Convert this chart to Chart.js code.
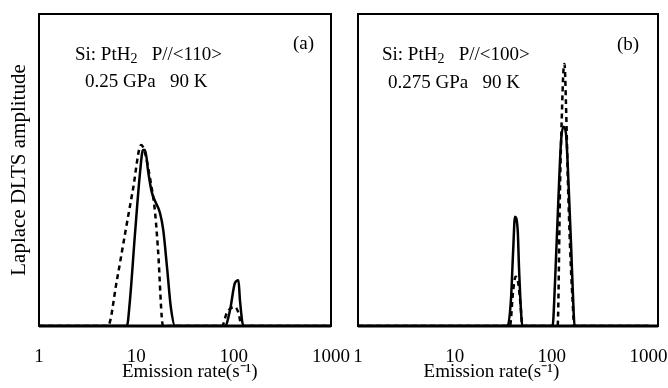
<!DOCTYPE html>
<html>
<head>
<meta charset="utf-8">
<script src="https://cdn.jsdelivr.net/npm/chart.js@4/dist/chart.umd.min.js"></script>
<style>
  html, body { margin: 0; padding: 0; background: #fff; }
  #wrap { position: relative; width: 668px; height: 388px; overflow: hidden; }
  canvas { position: absolute; top: 0; }
  #chartA { left: 0; }
  #chartB { left: 340px; }
  .note {
    position: absolute; font-family: "Liberation Serif", "Times New Roman", serif;
    font-size: 19px; line-height: 19px; color: #000; white-space: pre;
  }
  .note sub { font-size: 14px; vertical-align: -3px; line-height: 0; }
</style>
</head>
<body>
<div id="wrap">
  <canvas id="chartA" width="350" height="388"></canvas>
  <canvas id="chartB" width="328" height="388"></canvas>
  <div class="note" style="left:75px; top:44px;">Si: PtH<sub>2</sub>   P//&lt;110&gt;</div>
  <div class="note" style="left:85px; top:71px;">0.25 GPa   90 K</div>
  <div class="note" style="left:293px; top:33px;">(a)</div>
  <div class="note" style="left:382px; top:44px;">Si: PtH<sub>2</sub>   P//&lt;100&gt;</div>
  <div class="note" style="left:388px; top:72px;">0.275 GPa   90 K</div>
  <div class="note" style="left:617px; top:34px;">(b)</div>
</div>
<script>
// tick values on the log axis
const xTicks = [1, 10, 100, 1000];

// panel (a): P//<110>, 0.25 GPa
const aSolidRate = [1, 8.0, 8.6, 9.7, 10.9, 11.7, 12.3, 13.3, 14.4, 17.5, 18.9, 20.8, 22.6, 25.0, 81.6, 91.8, 103, 112, 116, 126, 1000];
const aSolidAmp  = [0, 0, 8.3, 29.8, 49.0, 56.4, 56.4, 49.0, 42.9, 36.2, 30.8, 17.9, 6.1, 0, 0, 5.1, 13.8, 14.7, 8.3, 0, 0];
const aDashRate  = [1, 5.1, 6.3, 7.6, 9.2, 11.2, 14.5, 15.6, 16.7, 18.8, 76, 85, 103, 112, 121, 1000];
const aDashAmp   = [0, 0, 14.5, 29.0, 43.5, 58.0, 43.6, 36.2, 24.4, 0, 0, 4.2, 6.1, 4.2, 0, 0];

// panel (b): P//<100>, 0.275 GPa
const bSolidRate = [1, 35.0, 37.9, 40.0, 41.7, 44.5, 45.9, 48.1, 49.6, 102, 108, 117, 125, 132, 140, 149, 159, 168, 172, 1000];
const bSolidAmp  = [0, 0, 8.3, 24.4, 35.0, 30.8, 19.0, 5.1, 0, 0, 13.8, 40.4, 59.6, 63.9, 61.9, 45.8, 24.4, 5.1, 0, 0];
const bDashRate  = [1, 37.0, 40.0, 42.4, 45.1, 48.1, 49.6, 115, 122, 127, 132, 135.5, 140, 147, 155, 164, 171, 1000];
const bDashAmp   = [0, 0, 11.5, 15.8, 13.8, 5.1, 0, 0, 45.8, 67.0, 81.7, 84.0, 72.1, 45.8, 24.4, 8.3, 0, 0];

const serif = "'Liberation Serif', 'Times New Roman', serif";

function pts(xs, ys) {
  return xs.map((x, i) => ({ x: x, y: ys[i] }));
}

const boxPlugin = {
  id: 'box',
  afterDraw(chart) {
    const { ctx, chartArea: a } = chart;
    ctx.save();
    ctx.strokeStyle = '#000';
    ctx.lineWidth = 2;
    ctx.strokeRect(a.left, a.top, a.right - a.left, a.bottom - a.top);
    ctx.lineWidth = 3;
    ctx.beginPath();
    ctx.moveTo(a.left, a.bottom);
    ctx.lineTo(a.right, a.bottom);
    ctx.stroke();
    ctx.restore();
  }
};

function makePanel(id, solidX, solidY, dashX, dashY, opts) {
  return new Chart(document.getElementById(id), {
    type: 'line',
    data: {
      datasets: [
        { data: pts(solidX, solidY), borderColor: '#000', borderWidth: 2.5,
          pointRadius: 0, cubicInterpolationMode: 'monotone' },
        { data: pts(dashX, dashY), borderColor: '#000', borderWidth: 2.5,
          borderDash: [5, 4], pointRadius: 0, cubicInterpolationMode: 'monotone' }
      ]
    },
    options: {
      responsive: false,
      animation: false,
      layout: { padding: opts.padding },
      plugins: { legend: { display: false }, tooltip: { enabled: false } },
      scales: {
        x: {
          type: 'logarithmic',
          min: 1,
          max: opts.xMax,
          grid: { display: false, drawTicks: false },
          border: { display: false },
          afterBuildTicks: s => { s.ticks = xTicks.map(v => ({ value: v })); },
          afterFit: s => { s.height = 62; s.paddingLeft = 0; s.paddingRight = 0; },
          ticks: {
            color: '#000', padding: 20, maxRotation: 0, autoSkip: false,
            font: { family: serif, size: 19 },
            callback: v => String(v)
          },
          title: {
            display: true, text: opts.xTitle, color: '#000',
            font: { family: serif, size: 19 }, padding: { top: 0, bottom: 5 }
          }
        },
        y: {
          display: opts.showY,
          min: 0,
          max: 100,
          grid: { display: false, drawTicks: false },
          border: { display: false },
          ticks: { display: false },
          afterFit: s => { s.width = opts.showY ? 39 : 0; },
          title: {
            display: true, text: 'Laplace DLTS amplitude', color: '#000',
            font: { family: serif, size: 21 }, padding: { top: 7, bottom: 0 }
          }
        }
      }
    },
    plugins: [boxPlugin]
  });
}

makePanel('chartA', aSolidRate, aSolidAmp, aDashRate, aDashAmp, {
  padding: { left: 0, top: 14, right: 19, bottom: 0 },
  xMax: 1000, showY: true, xTitle: '  Emission rate(s\u207B\u00B9)'
});
makePanel('chartB', bSolidRate, bSolidAmp, bDashRate, bDashAmp, {
  padding: { left: 18, top: 14, right: 10, bottom: 0 },
  xMax: 1250, showY: false, xTitle: 'Emission rate(s\u207B\u00B9)       '
});
</script>
</body>
</html>
